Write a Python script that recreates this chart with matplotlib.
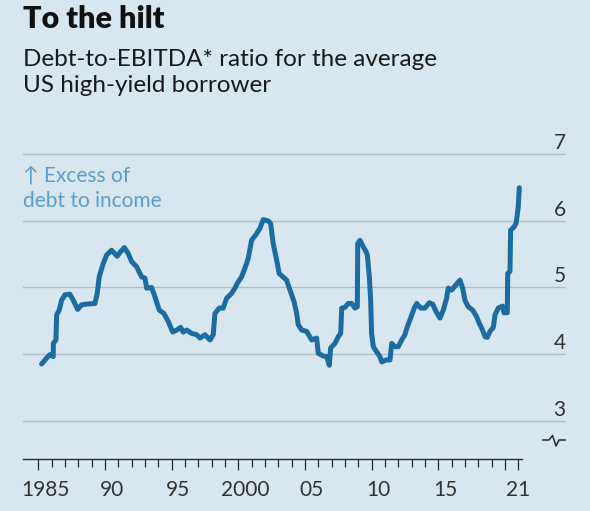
import matplotlib
matplotlib.use("Agg")
import matplotlib.pyplot as plt
from matplotlib.lines import Line2D
from matplotlib.transforms import offset_copy

# Debt-to-EBITDA ratio
years = [1985.24, 1985.62, 1985.86, 1986.11, 1986.12, 1986.31, 1986.37, 1986.56,
         1986.74, 1986.99, 1987.36, 1987.61, 1987.94, 1988.24, 1988.62, 1989.24,
         1989.41, 1989.56, 1989.86, 1990.12, 1990.49, 1990.91, 1991.17, 1991.44,
         1991.74, 1991.99, 1992.37, 1992.74, 1992.99, 1993.12, 1993.49, 1993.74,
         1994.06, 1994.41, 1994.74, 1995.07, 1995.37, 1995.67, 1995.86, 1996.12,
         1996.49, 1996.87, 1997.12, 1997.49, 1997.87, 1998.11, 1998.24, 1998.56,
         1998.86, 1999.12, 1999.49, 1999.74, 1999.91, 2000.24, 2000.49, 2000.74,
         2000.99, 2001.37, 2001.62, 2001.86, 2002.24, 2002.42, 2002.61, 2002.87,
         2003.06, 2003.62, 2003.87, 2004.17, 2004.37, 2004.49, 2004.75, 2005.12,
         2005.50, 2005.87, 2005.99, 2006.37, 2006.62, 2006.82, 2006.92, 2007.24,
         2007.49, 2007.67, 2007.75, 2007.99, 2008.24, 2008.50, 2008.74, 2008.92,
         2008.95, 2009.12, 2009.37, 2009.57, 2009.67, 2009.82, 2009.92, 2009.99,
         2010.12, 2010.37, 2010.62, 2010.75, 2011.07, 2011.37, 2011.50, 2011.74,
         2011.99, 2012.25, 2012.49, 2012.67, 2012.92, 2013.19, 2013.37, 2013.67,
         2013.99, 2014.32, 2014.57, 2014.82, 2015.12, 2015.37, 2015.62, 2015.74,
         2016.00, 2016.32, 2016.62, 2016.82, 2016.99, 2017.24, 2017.57, 2017.87,
         2018.07, 2018.25, 2018.50, 2018.67, 2018.87, 2019.12, 2019.25, 2019.49,
         2019.82, 2019.92, 2020.17, 2020.20, 2020.37, 2020.42, 2020.67, 2020.82,
         2020.87, 2020.99, 2021.07]
ratio = [3.85, 3.94, 3.99, 3.96, 4.16, 4.21, 4.59, 4.66,
         4.81, 4.89, 4.90, 4.81, 4.67, 4.74, 4.75, 4.76,
         4.91, 5.16, 5.36, 5.49, 5.56, 5.47, 5.54, 5.60,
         5.51, 5.39, 5.31, 5.16, 5.14, 4.99, 5.00, 4.86,
         4.66, 4.61, 4.49, 4.33, 4.36, 4.40, 4.33, 4.36,
         4.31, 4.29, 4.24, 4.29, 4.21, 4.29, 4.61, 4.69,
         4.69, 4.84, 4.91, 4.99, 5.06, 5.16, 5.29, 5.44,
         5.71, 5.81, 5.89, 6.02, 6.00, 5.96, 5.66, 5.41,
         5.21, 5.11, 4.96, 4.79, 4.61, 4.44, 4.36, 4.34,
         4.21, 4.24, 4.01, 3.97, 3.96, 3.83, 4.09, 4.16,
         4.26, 4.31, 4.69, 4.70, 4.76, 4.76, 4.69, 4.71,
         5.66, 5.71, 5.61, 5.54, 5.49, 5.16, 4.81, 4.31,
         4.11, 4.03, 3.96, 3.88, 3.91, 3.91, 4.16, 4.11,
         4.11, 4.21, 4.29, 4.41, 4.54, 4.69, 4.76, 4.69,
         4.69, 4.77, 4.75, 4.64, 4.54, 4.66, 4.84, 4.99,
         4.96, 5.04, 5.11, 4.99, 4.81, 4.71, 4.66, 4.56,
         4.46, 4.39, 4.26, 4.25, 4.34, 4.40, 4.59, 4.69,
         4.72, 4.62, 4.62, 5.21, 5.24, 5.86, 5.91, 5.96,
         6.02, 6.21, 6.50]

grid_values = [3, 4, 5, 6, 7]
tick_years = list(range(1985, 2022))
major_years = [1985, 1990, 1995, 2000, 2005, 2010, 2015, 2020, 2021]
label_years = [1985.5, 1990.5, 1995.5, 2000.5, 2005.5, 2010.5, 2015.5, 2021]
label_text = ["1985", "90", "95", "2000", "05", "10", "15", "21"]

BG = "#d8e6ef"
LINE = "#1b6ca3"
GRID = "#afbec8"
DARK = "#2b2b2b"
NOTE = "#5b9fc8"

plt.rcParams['font.family'] = ['Lato', 'DejaVu Sans']

W, H = 590, 511
fig = plt.figure(figsize=(W / 100, H / 100), dpi=100)
fig.patch.set_facecolor(BG)

ax = fig.add_axes([22.7 / W, (H - 459.3) / H, (565.7 - 22.7) / W, (459.3 - 151.1) / H])
ax.set_facecolor(BG)
ax.set_xlim(1983.82, 2024.55)
ax.set_ylim(2.417, 7.05)

for s in ["top", "right", "left"]:
    ax.spines[s].set_visible(False)
ax.spines["bottom"].set_bounds(1983.82, 2021.3)
ax.spines["bottom"].set_color(DARK)
ax.spines["bottom"].set_linewidth(1.0)

ax.set_yticks(grid_values)
ax.tick_params(axis="y", length=0, labelleft=False)
ax.yaxis.grid(True, color=GRID, linewidth=1.0)
ax.set_axisbelow(True)

ax.set_xticks(major_years)
ax.set_xticks(tick_years, minor=True)
ax.tick_params(axis="x", which="major", length=7.7, width=0.9, color=DARK, labelbottom=False)
ax.tick_params(axis="x", which="minor", length=6.0, width=0.9, color=DARK)

ax.plot(years, ratio, color=LINE, linewidth=3.6, solid_joinstyle="round",
        solid_capstyle="round", zorder=3)

# y labels sit on top of the gridlines, right-aligned
ylab_tr = offset_copy(ax.get_yaxis_transform(), fig=fig, y=5, units="dots")
for v in grid_values:
    ax.text(1.0, v, str(v), transform=ylab_tr, ha="right", va="baseline",
            fontsize=15, color="#333333")

xlab_tr = offset_copy(ax.get_xaxis_transform(), fig=fig, y=-36.2, units="dots")
for x, t in zip(label_years, label_text):
    ax.text(x, 0, t, transform=xlab_tr, ha="center", va="baseline",
            fontsize=15, color="#333333")

# axis break mark
bx = [543, 549, 552.5, 556, 559, 565]
by = [440, 440, 435.5, 446, 440, 440]
fig.add_artist(Line2D([x / W for x in bx], [1 - y / H for y in by],
                      color=DARK, linewidth=1.1, transform=fig.transFigure))

fig.text(23 / W, 1 - 28.3 / H, "To the hilt", fontsize=22, fontweight="heavy",
         color="#111111", va="baseline")
fig.text(23 / W, 1 - 66 / H, "Debt-to-EBITDA* ratio for the average",
         fontsize=17.5, color="#1a1a1a", va="baseline")
fig.text(23 / W, 1 - 92 / H, "US high-yield borrower",
         fontsize=17.5, color="#1a1a1a", va="baseline")

fig.text(23 / W, 1 - 182 / H, "↑ Excess of", fontsize=15, color=NOTE, va="baseline")
fig.text(23 / W, 1 - 207 / H, "debt to income", fontsize=15, color=NOTE, va="baseline")

fig.savefig("out.png", dpi=100, facecolor=BG)
